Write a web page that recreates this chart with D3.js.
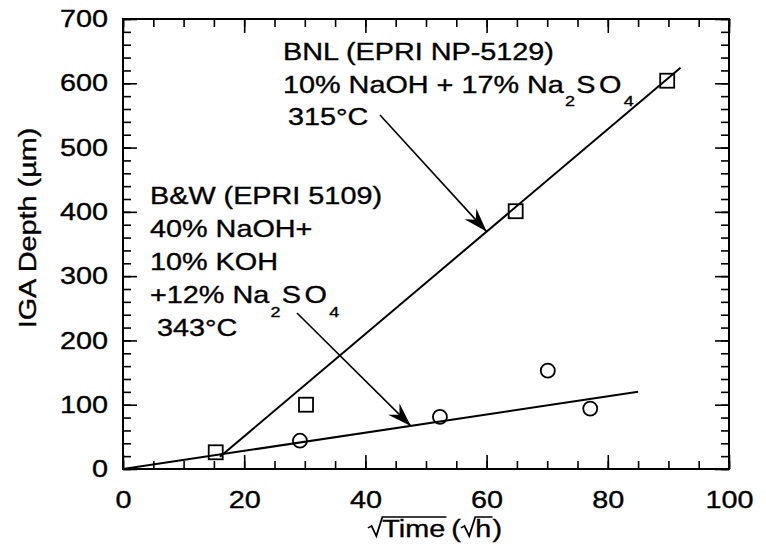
<!DOCTYPE html>
<html>
<head>
<meta charset="utf-8">
<script src="https://cdn.jsdelivr.net/npm/d3@7"></script>
<style>
  body { margin: 0; background: #fff; }
  svg { display: block; }
  text { stroke: #000; stroke-width: 0.35px; }
</style>
</head>
<body>
<svg id="chart" width="766" height="555"></svg>
<script>
// IGA depth versus square root of exposure time
const bnlTime  = [15.3, 30.2, 64.8, 89.8];
const bnlDepth = [26, 100, 401, 604];
const bwTime   = [29.2, 52.3, 70.1, 77.1];
const bwDepth  = [44, 81, 153, 94];

// straight-line fits through each data set (endpoints)
const bnlFitTime  = [16, 92];
const bnlFitDepth = [19, 624];
const bwFitTime   = [0, 85];
const bwFitDepth  = [0, 120];

const xTicks = [0, 20, 40, 60, 80, 100];
const yTicks = [0, 100, 200, 300, 400, 500, 600, 700];

const bnlLabel = ["BNL (EPRI NP-5129)", "10% NaOH + 17% Na|2|SO|4", "315°C"];
const bwLabel  = ["B&W (EPRI 5109)", "40% NaOH+", "10% KOH", "+12% Na|2|SO|4", "343°C"];

const FONT = "'Liberation Sans', Arial, Helvetica, sans-serif";
const SX = 1.2;          // wide letterforms
const FS = 24;

const svg = d3.select("#chart");
const x = d3.scaleLinear().domain([0, 100]).range([123, 729]);
const y = d3.scaleLinear().domain([0, 700]).range([469, 19]);

// ---- ticks (inward on all four sides) ----
function styleTicks(g) {
  g.select(".domain").remove();
  g.selectAll("line").attr("stroke", "#000").attr("stroke-width", 1.6);
}
const minorX = d3.range(0, 101, 5);
const minorY = d3.range(0, 701, 20);

svg.append("g").attr("transform", `translate(0,${y(0)})`)
  .call(d3.axisBottom(x).tickValues(minorX).tickSize(-8).tickFormat(""))
  .call(styleTicks);
svg.append("g").attr("transform", `translate(0,${y(700)})`)
  .call(d3.axisTop(x).tickValues(minorX).tickSize(-8).tickFormat(""))
  .call(styleTicks);
svg.append("g").attr("transform", `translate(${x(0)},0)`)
  .call(d3.axisLeft(y).tickValues(minorY).tickSize(-8).tickFormat(""))
  .call(styleTicks);
svg.append("g").attr("transform", `translate(${x(100)},0)`)
  .call(d3.axisRight(y).tickValues(minorY).tickSize(-8).tickFormat(""))
  .call(styleTicks);

svg.append("g").attr("transform", `translate(${x(100)},0)`)
  .call(d3.axisRight(y).tickValues(yTicks).tickSize(-14).tickFormat(""))
  .call(styleTicks);
svg.append("g").attr("transform", `translate(0,${y(700)})`)
  .call(d3.axisTop(x).tickValues(xTicks).tickSize(-14).tickFormat(""))
  .call(styleTicks);

function styleLabels(g) {
  g.attr("font-family", FONT).attr("font-size", FS);
  g.selectAll("text").attr("fill", "#000")
    .attr("font-size", FS)
    .attr("transform", `scale(${SX},1)`);
}
svg.append("g").attr("transform", `translate(0,${y(0)})`)
  .call(d3.axisBottom(x).tickValues(xTicks).tickSize(-14).tickPadding(22).tickFormat(d3.format("d")))
  .call(styleTicks).call(styleLabels);
svg.append("g").attr("transform", `translate(${x(0)},0)`)
  .call(d3.axisLeft(y).tickValues(yTicks).tickSize(-14).tickPadding(12.5).tickFormat(d3.format("d")))
  .call(styleTicks).call(styleLabels);

// ---- frame ----
svg.append("rect")
  .attr("x", x(0)).attr("y", y(700))
  .attr("width", x(100) - x(0)).attr("height", y(0) - y(700))
  .attr("fill", "none").attr("stroke", "#000").attr("stroke-width", 2);

// ---- fit lines ----
const line = d3.line().x(d => x(d[0])).y(d => y(d[1]));
svg.append("path").datum(d3.zip(bnlFitTime, bnlFitDepth))
  .attr("d", line).attr("fill", "none").attr("stroke", "#000").attr("stroke-width", 2);
svg.append("path").datum(d3.zip(bwFitTime, bwFitDepth))
  .attr("d", line).attr("fill", "none").attr("stroke", "#000").attr("stroke-width", 2);

// ---- markers ----
const sq = 14;
svg.append("g").selectAll("rect").data(d3.zip(bnlTime, bnlDepth)).join("rect")
  .attr("x", d => x(d[0]) - sq / 2).attr("y", d => y(d[1]) - sq / 2)
  .attr("width", sq).attr("height", sq)
  .attr("fill", "none").attr("stroke", "#000").attr("stroke-width", 1.8);
svg.append("g").selectAll("circle").data(d3.zip(bwTime, bwDepth)).join("circle")
  .attr("cx", d => x(d[0])).attr("cy", d => y(d[1])).attr("r", 7)
  .attr("fill", "none").attr("stroke", "#000").attr("stroke-width", 1.8);

// ---- annotation text ----
function textLine(px, py, str) {
  const t = svg.append("text")
    .attr("transform", `translate(${px},${py}) scale(${SX},1)`)
    .attr("font-family", FONT).attr("font-size", FS).attr("fill", "#000");
  const parts = str.split("|");
  if (parts.length === 1) { t.text(str); return; }
  // "Na|2|SO|4" -> subscripted chemical formula
  t.append("tspan").text(parts[0]);
  t.append("tspan").text(parts[1]).attr("font-size", 15).attr("dy", 14).attr("dx", 1);
  t.append("tspan").text(parts[2][0]).attr("dy", -14).attr("dx", 1);
  t.append("tspan").text(parts[2].slice(1)).attr("dx", 3);
  t.append("tspan").text(parts[3]).attr("font-size", 15).attr("dy", 14).attr("dx", 2);
}
bnlLabel.forEach((s, i) => textLine(i === 2 ? 288 : 283, 60 + i * 32.5, s));
bwLabel.forEach((s, i) => textLine(i === 4 ? 157 : 150, 204 + i * 33, s));

// ---- arrows ----
function arrow(x0, y0, x1, y1) {
  const ang = Math.atan2(y1 - y0, x1 - x0) * 180 / Math.PI;
  svg.append("line").attr("x1", x0).attr("y1", y0).attr("x2", x1).attr("y2", y1)
    .attr("stroke", "#000").attr("stroke-width", 1.6);
  svg.append("path")
    .attr("d", "M0,0 L-24,-8 L-16,0 L-24,8 Z")
    .attr("transform", `translate(${x1},${y1}) rotate(${ang})`)
    .attr("fill", "#000");
}
arrow(380, 115, x(60), y(bnlFitDepth[0] + (60 - bnlFitTime[0]) * (bnlFitDepth[1] - bnlFitDepth[0]) / (bnlFitTime[1] - bnlFitTime[0])));
arrow(297, 313, x(47.5), y(47.5 * bwFitDepth[1] / bwFitTime[1]));

// ---- axis titles ----
svg.append("text")
  .attr("transform", `translate(36,228) rotate(-90) scale(${SX},1)`)
  .attr("text-anchor", "middle")
  .attr("font-family", FONT).attr("font-size", FS).attr("fill", "#000")
  .text("IGA Depth (µm)");

const xt = svg.append("g");
const xi = xt.append("g").attr("transform", `scale(${SX},1)`);
let cur = 0;
function radical(x0, x1) {
  xi.append("path")
    .attr("d", `M${x0},-9 L${x0 + 3},-11 L${x0 + 7},-1 L${x0 + 12},-20 L${x1},-20`)
    .attr("fill", "none").attr("stroke", "#000").attr("stroke-width", 1.5);
}
function piece(str, sqrt) {
  const start = cur;
  if (sqrt) cur += 12;
  const t = xi.append("text").attr("x", cur)
    .attr("font-family", FONT).attr("font-size", FS).attr("fill", "#000").text(str);
  const w = t.node().getComputedTextLength();
  if (sqrt) radical(start, cur + w + 1);
  cur += w;
}
piece("Time", true);
cur += 5;
piece("(", false);
piece("h", true);
cur += 1;
piece(")", false);
xt.attr("transform", `translate(${435 - cur * SX / 2},537)`);
</script>
</body>
</html>
